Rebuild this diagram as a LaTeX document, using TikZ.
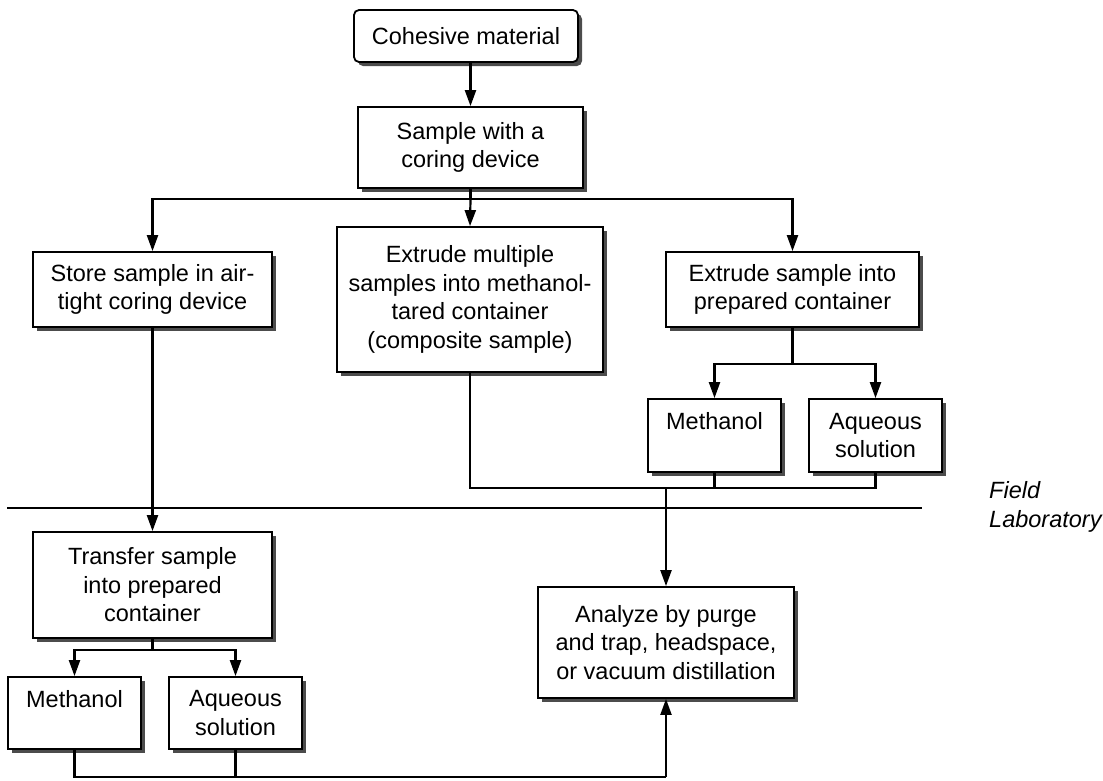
\documentclass[tikz,border=0pt]{standalone}
\usepackage{fontspec}
\setmainfont{Liberation Sans}
\usetikzlibrary{arrows.meta,shadows}
\tikzset{
    box/.style={draw,line width=1.8pt,fill=white,align=center,inner sep=2pt,
        font=\fontsize{23.5}{28.5}\selectfont,
        drop shadow={shadow xshift=4pt,shadow yshift=-4pt,fill=black!70,opacity=1}},
    link/.style={draw,line width=2.2pt},
    arr/.style={link,-{Triangle[length=16pt,width=11pt]}},
}
\begin{document}
\begin{tikzpicture}[x=1pt,y=-1pt]
                \useasboundingbox (0,0) rectangle (1103,780);
                % <<< field part
                \node[box,rounded corners=5pt,minimum width=224,minimum height=52] (coh) at (466,36) {Cohesive material};
                \node[box,minimum width=225,minimum height=81] (samp) at (470.5,147.5) {Sample with a\\coring device};
                \node[box,minimum width=239,minimum height=75] (store) at (152.5,289.5) {Store sample in air-\\tight coring device};
                \node[box,minimum width=266,minimum height=145] (multi) at (470,299.5) {Extrude multiple\\samples into methanol-\\tared container\\(composite sample)};
                \node[box,minimum width=253,minimum height=75] (extr) at (792.5,289.5) {Extrude sample into\\prepared container};
                \node[box,minimum width=133,minimum height=73] (methR) at (714.5,435.5) {Methanol\\\mbox{}};
                \node[box,minimum width=133,minimum height=73] (aqR) at (875.5,435.5) {Aqueous\\solution};
                % <<< laboratory part
                \node[box,minimum width=239,minimum height=106] (trans) at (152.5,585) {Transfer sample\\into prepared\\container};
                \node[box,minimum width=133,minimum height=72] (methL) at (74.5,713) {Methanol\\\mbox{}};
                \node[box,minimum width=133,minimum height=72] (aqL) at (235.5,713) {Aqueous\\solution};
                \node[box,minimum width=256,minimum height=111] (anal) at (666,642.5) {Analyze by purge\\and trap, headspace,\\or vacuum distillation};
                \node[anchor=west,align=left,inner sep=0pt,font=\fontsize{23.5}{28.5}\selectfont\itshape] (lab) at (989,507) {Field\\Laboratory};
                % <<< connectors
                \coordinate (split1) at (470.5,199);
                \coordinate (split2) at (792.5,364);
                \coordinate (split3) at (152.5,650);
                \coordinate (join1) at (666,488);
                \coordinate (join2) at (666,777);
                \coordinate (fl) at (7,508);
                \coordinate (fr) at (922,508);
                \draw[arr] (samp.north |- coh.south) -- (samp.north);
                \draw[link] (samp.south) -- (split1);
                \draw[arr] (split1) -| (store.north);
                \draw[arr] (split1) -- (multi.north);
                \draw[arr] (split1) -| (extr.north);
                \draw[link] (extr.south) -- (split2);
                \draw[arr] (split2) -| (methR.north);
                \draw[arr] (split2) -| (aqR.north);
                \draw[link] (multi.south) |- (join1) -| (aqR.south);
                \draw[link] (methR.south) -- (methR.south |- join1);
                \draw[arr] (join1) -- (anal.north);
                \draw[arr] (store.south) -- (trans.north);
                \draw[link] (trans.south) -- (split3);
                \draw[arr] (split3) -| (methL.north);
                \draw[arr] (split3) -| (aqL.north);
                \draw[link] (methL.south) |- (join2);
                \draw[link] (aqL.south) -- (aqL.south |- join2);
                \draw[arr] (join2) -- (anal.south);
                \draw[link] (fl) -- (fr);
            \end{tikzpicture}
\end{document}
